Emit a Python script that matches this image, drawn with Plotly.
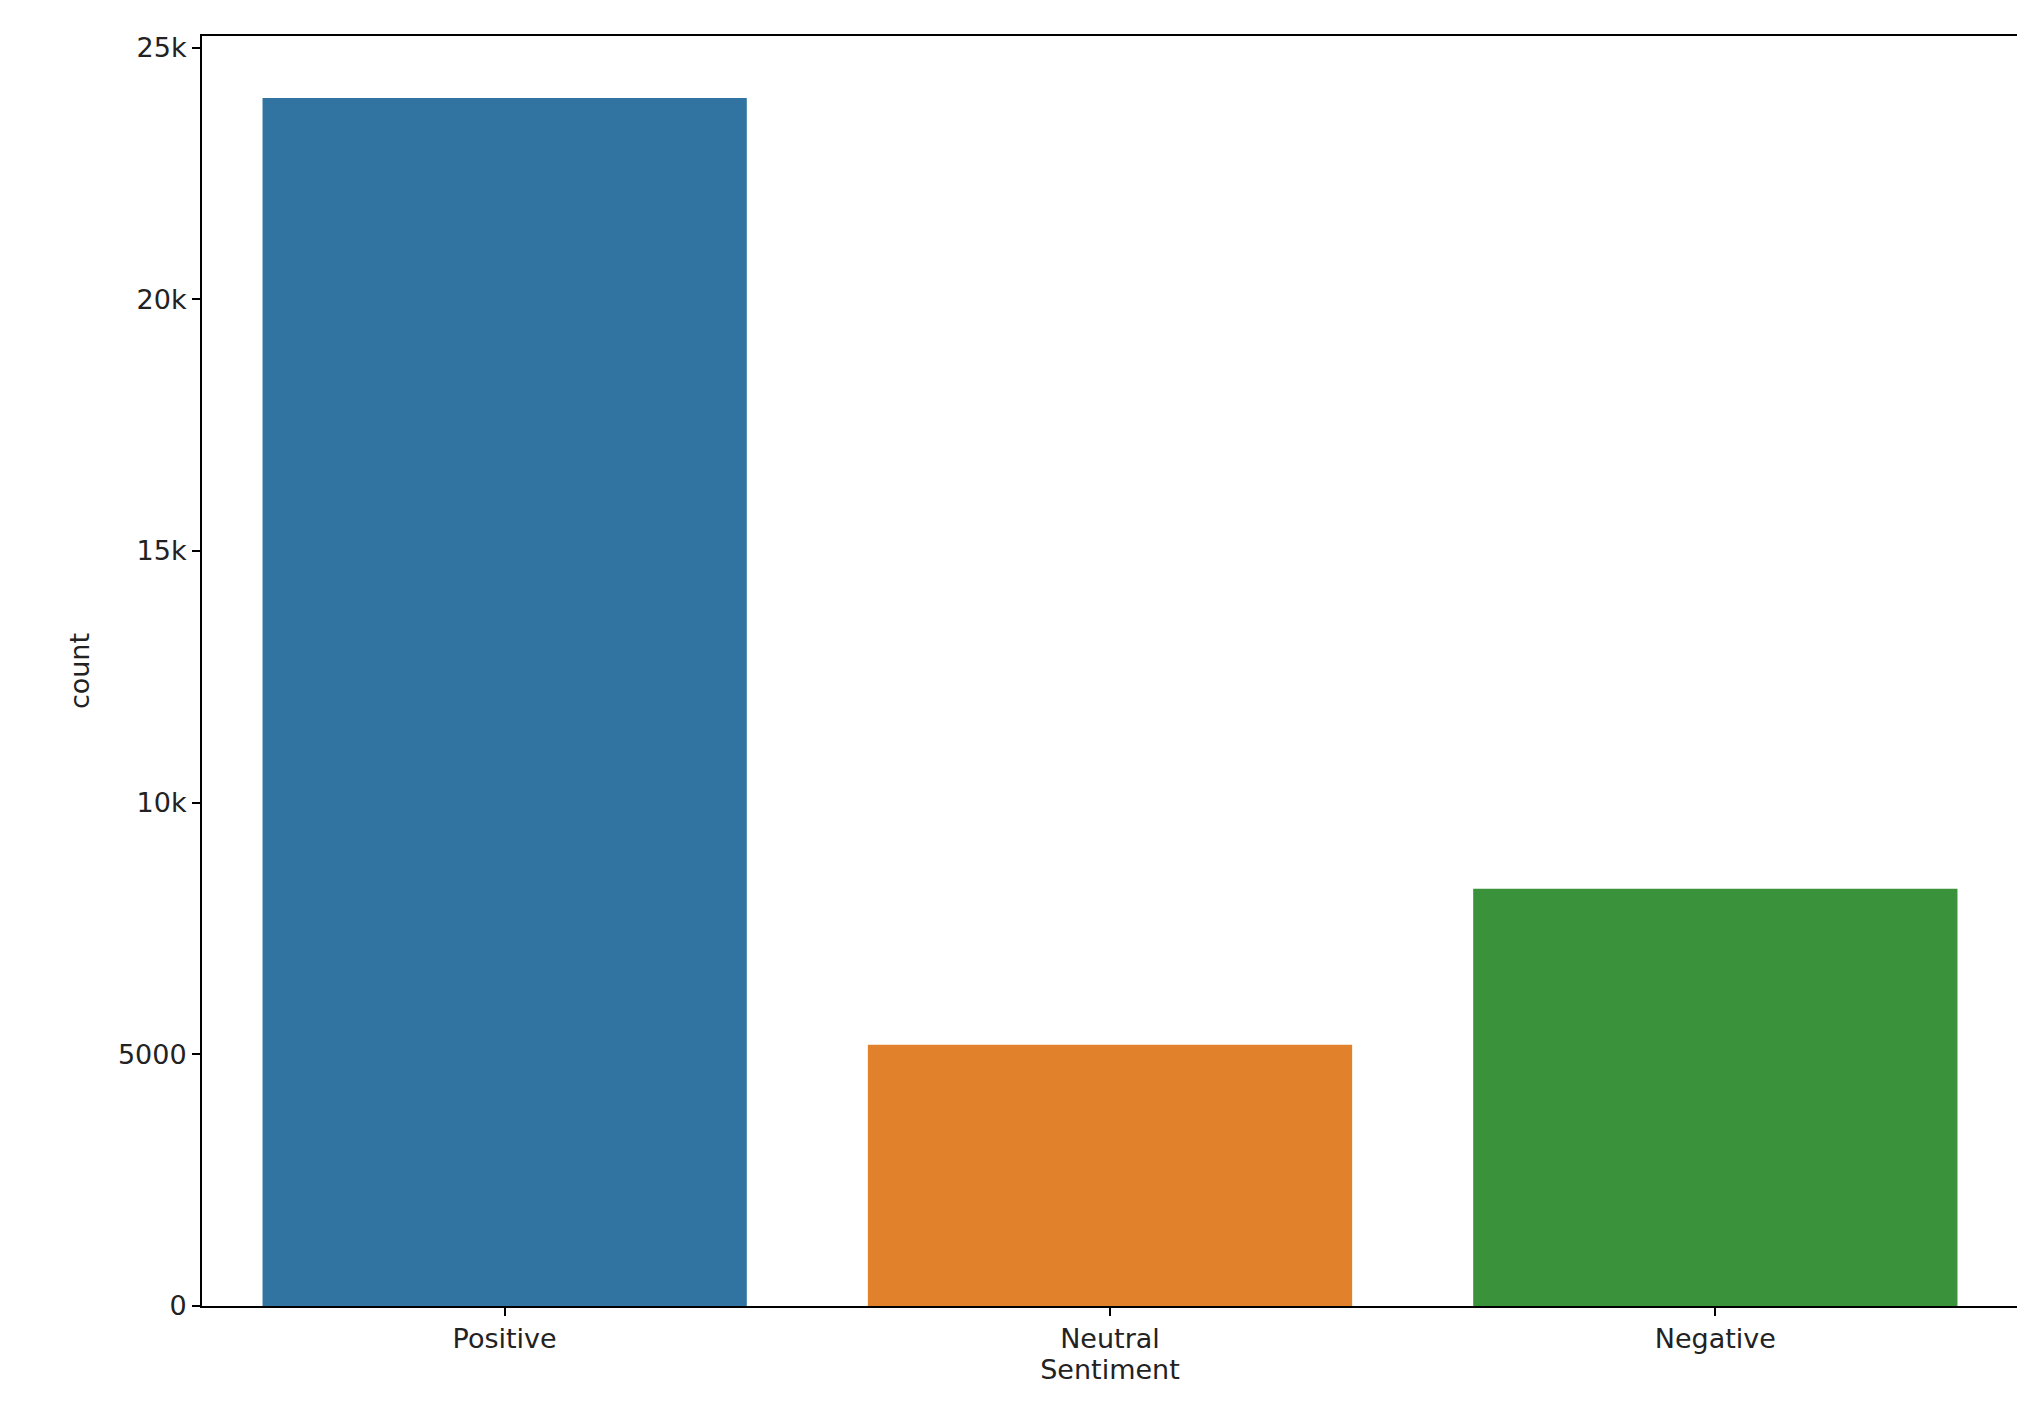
import plotly.graph_objects as go

categories = ["Positive", "Neutral", "Negative"]
counts = [24000, 5190, 8290]
colors = ["#3274a1", "#e1812c", "#3a923a"]

fig = go.Figure(go.Bar(x=categories, y=counts, marker=dict(color=colors, line=dict(width=0)), width=0.8))
axis_common = dict(showline=True, linecolor="black", linewidth=2, mirror=True, showgrid=False,
                   ticks="outside", ticklen=8, tickwidth=2, tickcolor="black",
                   tickfont=dict(family="DejaVu Sans", size=27, color="#222"))
fig.update_layout(
    width=2025, height=1414, plot_bgcolor="white", paper_bgcolor="white",
    margin=dict(l=194, r=15, t=28, b=116),
    xaxis=dict(**axis_common, title=dict(text="Sentiment", standoff=4, font=dict(family="DejaVu Sans", size=27, color="#222"))),
    yaxis=dict(**axis_common, range=[0, 25230], tickvals=[0, 5000, 10000, 15000, 20000, 25000], zeroline=False,
               title=dict(text="count", standoff=20, font=dict(family="DejaVu Sans", size=27, color="#222"))),
    showlegend=False,
)
fig.write_html("out.html")
